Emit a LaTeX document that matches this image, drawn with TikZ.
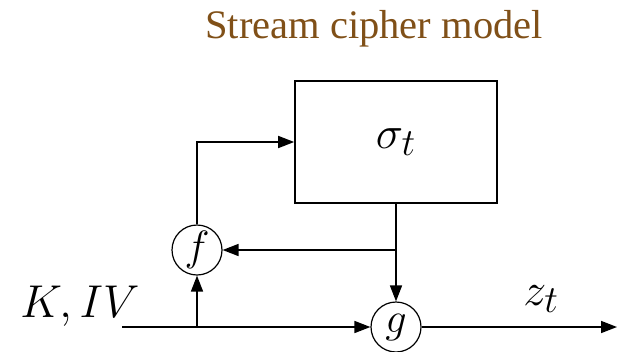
\documentclass[tikz,border=0pt]{standalone}
\usepackage{fontspec}
\setmainfont{Liberation Serif}
\usetikzlibrary{arrows.meta}
\definecolor{titlebrown}{RGB}{128,80,24}
\tikzset{
    signal line/.style={line width=1.6pt, -{Triangle[length=16pt,width=12pt]}},
    state box/.style={draw, line width=1.6pt, minimum width=202pt,
        minimum height=122pt, inner sep=0pt},
    func node/.style={draw, circle, line width=1.2pt, minimum size=50pt,
        inner sep=0pt},
    math label/.style={inner sep=0pt, font=\Huge, scale=1.85}
}

\begin{document}
\begin{tikzpicture}[x=1pt,y=-1pt]
    \useasboundingbox (0,0) rectangle (617,351);
    \node[inner sep=0pt, anchor=base, text=titlebrown,
        font=\fontsize{40.5}{46}\selectfont] (title) at (374,38) {Stream cipher model};
    % state and the two functions
    \node[state box] (state) at (396,142) {};
    \node[math label] (sigma) at (396,142) {$\sigma_t$};
    \node[func node] (f) at (197,250) {};
    \node[math label, scale=0.92] (flab) at (f) {$f$};
    \node[func node] (g) at (396,327) {};
    \node[math label, scale=0.92] (glab) at (g) {$g$};
    \node[math label, anchor=base west] (key) at (20,317) {$K,IV$};
    \node[math label, anchor=base west] (out) at (523,305) {$z_t$};
    \coordinate (in) at (122,327);
    \coordinate (split) at (f |- in);
    \coordinate (branch) at (state.south |- f);
    \coordinate (corner) at (f |- state.west);
    \coordinate (end) at (617,327);
    % connectors
    \draw[signal line] (in) -- (g);
    \draw[signal line] (g) -- (end);
    \draw[signal line] (split) -- (f);
    \draw[signal line] (f) -- (corner) -- (state.west);
    \draw[signal line] (state.south) -- (g);
    \draw[signal line] (branch) -- (f);
\end{tikzpicture}
\end{document}
